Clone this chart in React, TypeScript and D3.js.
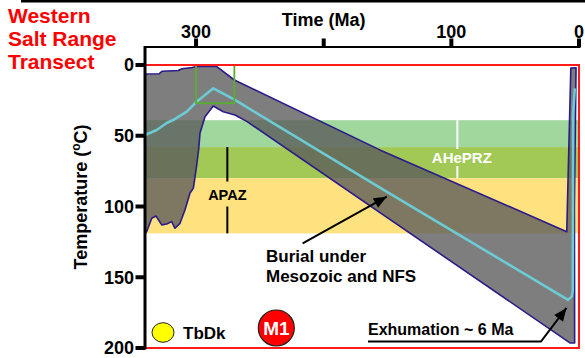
import React from "react";
import * as d3 from "d3";

// ---- data ----
const timeTicks = [300, 200, 100, 0];
const timeTickLabels = ["300", "", "100", "0"];
const tempTicks = [0, 50, 100, 150, 200];
const titleLines = ["Western", "Salt Range", "Transect"];

// envelope: upper boundary (minimum temperature), left to right [time Ma, temp °C]
const envUpper: [number, number][] = [
  [340, 6.4], [329, 6.2], [326.5, 4.4], [314, 3.9], [311, 2.6], [303, 1.8], [299.5, 1.0],
  [284, 1.0], [270, 10.6], [156, 60], [9.6, 117.8], [6.4, 2.1], [2.3, 1.9],
];
// right edge of envelope (present-day end), top to bottom
const envRight: [number, number][] = [
  [3.6, 100], [3.4, 196.5], [6.8, 196.5],
];
// envelope: lower boundary (maximum temperature), right to left
const envLower: [number, number][] = [
  [260, 40], [269.5, 35.3], [278.7, 33], [286.5, 29], [293, 36.5], [296.9, 48], [298, 60],
  [299.4, 70], [300.8, 79], [302.1, 87], [304.7, 90.5], [308.7, 102.5], [312.6, 111.9],
  [316.5, 115.4], [319.1, 110.7], [323, 112.4], [326.9, 113], [331.4, 106.7], [334.7, 108.3],
  [338.7, 117.8], [340, 119],
];
// mean path (cyan)
const meanPath: [number, number][] = [
  [340, 49.5], [330.8, 45.9], [323, 41], [318, 38.9], [307.3, 33], [299.5, 25.9], [286.5, 16.5],
  [269.5, 24.7], [156, 86.6], [8.6, 166], [5.6, 163.5], [4.9, 160], [4.6, 35], [3.3, 16.5],
];
// partial retention / annealing zones [from °C, to °C]
const bandLightGreen = [39, 58];
const bandDarkGreen = [58, 80];
const bandYellow = [80, 119];
const aheprzRange = [39, 80];
const apazRange = [58, 119];
const aheprzTime = 95.3;
const apazTime = 275.5;
// constraint box [time from, time to, temp from, temp to]
const constraintBox = [300, 270, 0, 27];
// annotation arrows (time, temp)
const burialArrow: [number, number][] = [[216.5, 126], [150.6, 93.1]];
const exhumArrow: [number, number][] = [[165.3, 195.4], [29.8, 195.4], [9.8, 171.7]];

const FONT = "'Liberation Sans', Arial, Helvetica, sans-serif";

function arrowHead(p0: [number, number], p1: [number, number], len = 13, half = 5.5) {
  const dx = p1[0] - p0[0];
  const dy = p1[1] - p0[1];
  const L = Math.hypot(dx, dy);
  const ux = dx / L, uy = dy / L;
  const bx = p1[0] - ux * len, by = p1[1] - uy * len;
  return `M${p1[0]},${p1[1]}L${bx - uy * half},${by + ux * half}L${bx + uy * half},${by - ux * half}Z`;
}

export default function App() {
  const x = d3.scaleLinear().domain([340, 0]).range([145, 579]);
  const y = d3.scaleLinear().domain([0, 200]).range([65, 348]);

  const line = d3.line<[number, number]>().x((d) => x(d[0])).y((d) => y(d[1]));
  const envelope = [...envUpper, ...envRight, ...envLower];
  const envPath = line(envelope) + "Z";
  const meanD = line(meanPath)!;

  const bands = [
    { r: bandLightGreen, c: "#9fd79d" },
    { r: bandDarkGreen, c: "#a2c956" },
    { r: bandYellow, c: "#fde27f" },
  ];

  const burialPx = burialArrow.map((d) => [x(d[0]), y(d[1])] as [number, number]);
  const exhumPx = exhumArrow.map((d) => [x(d[0]), y(d[1])] as [number, number]);

  const plotL = x(340), plotR = x(0), plotT = y(0), plotB = y(200);
  const axisTop = 47;

  return (
    <svg width={585} height={358} style={{ position: "absolute", left: 0, top: 0, display: "block", background: "#fff" }} fontFamily={FONT}>
      {/* top black rule */}
      <line x1={21} x2={585} y1={1} y2={1} stroke="#000" strokeWidth={3} />

      {/* title */}
      {titleLines.map((t, i) => (
        <text key={t} x={8} y={23 + i * 23} fill="#ff0000" fontWeight="bold" fontSize={21}>{t}</text>
      ))}

      {/* bands */}
      {bands.map((b, i) => (
        <rect key={i} x={plotL} width={plotR - plotL} y={y(b.r[0])} height={y(b.r[1]) - y(b.r[0])} fill={b.c} />
      ))}

      {/* envelope */}
      <path d={envPath} fill="#5a5a5a" fillOpacity={0.78} stroke="#2b1a8a" strokeWidth={1.6} strokeLinejoin="round" />

      {/* mean path */}
      <path d={meanD} fill="none" stroke="#6ccbd3" strokeWidth={2.6} strokeLinejoin="round" />

      {/* constraint box */}
      <rect x={x(constraintBox[0])} y={y(constraintBox[2])} width={x(constraintBox[1]) - x(constraintBox[0])}
        height={y(constraintBox[3]) - y(constraintBox[2])} fill="none" stroke="#5aae2e" strokeWidth={1.8} />

      {/* APAZ marker */}
      <line x1={x(apazTime)} x2={x(apazTime)} y1={y(apazRange[0])} y2={181.5} stroke="#000" strokeWidth={2} />
      <line x1={x(apazTime)} x2={x(apazTime)} y1={206.5} y2={y(apazRange[1])} stroke="#000" strokeWidth={2} />
      <text x={x(apazTime)} y={200} textAnchor="middle" fontWeight="bold" fontSize={14.5} fill="#000">APAZ</text>

      {/* AHePRZ marker */}
      <line x1={x(aheprzTime)} x2={x(aheprzTime)} y1={y(aheprzRange[0])} y2={149} stroke="#fff" strokeWidth={2} />
      <line x1={x(aheprzTime)} x2={x(aheprzTime)} y1={166} y2={y(aheprzRange[1])} stroke="#fff" strokeWidth={2} />
      <text x={x(aheprzTime) + 4.5} y={162.5} textAnchor="middle" fontWeight="bold" fontSize={15} fill="#fff">AHePRZ</text>

      {/* plot frame */}
      <rect x={plotL} y={plotT} width={plotR - plotL} height={plotB - plotT} fill="none" stroke="#ff1a1a" strokeWidth={2} />

      {/* axes */}
      <line x1={plotL} x2={plotR + 1.5} y1={axisTop} y2={axisTop} stroke="#000" strokeWidth={2} />
      <line x1={plotL} x2={plotL} y1={axisTop - 1} y2={plotB + 1.5} stroke="#000" strokeWidth={3} />
      {timeTicks.map((t, i) => (
        <g key={t}>
          <rect x={x(t) - 2} y={axisTop - 8.5} width={4} height={8.5} fill="#000" />
          {timeTickLabels[i] && (
            <text x={x(t)} y={37.5} textAnchor="middle" fontWeight="bold" fontSize={18} fill="#000">{timeTickLabels[i]}</text>
          )}
        </g>
      ))}
      {tempTicks.map((t) => (
        <g key={t}>
          <rect x={plotL - 9.5} y={y(t) - 2} width={9.5} height={4} fill="#000" />
          <text x={134} y={y(t)} dy="0.36em" textAnchor="end" fontWeight="bold" fontSize={18} fill="#000">{t}</text>
        </g>
      ))}
      <text x={x(200)} y={25.5} textAnchor="middle" fontWeight="bold" fontSize={18} fill="#000">Time (Ma)</text>
      <text transform="translate(87,197) rotate(-90)" textAnchor="middle" fontWeight="bold" fontSize={18} fill="#000">
        Temperature (<tspan dy={-7} fontSize={12}>o</tspan><tspan dy={7}>C)</tspan>
      </text>

      {/* annotations */}
      <line x1={burialPx[0][0]} y1={burialPx[0][1]} x2={burialPx[1][0]} y2={burialPx[1][1]} stroke="#000" strokeWidth={2} />
      <path d={arrowHead(burialPx[0], burialPx[1])} fill="#000" />
      <text x={266} y={261.5} fontWeight="bold" fontSize={17} fill="#000">Burial under</text>
      <text x={266} y={281.5} fontWeight="bold" fontSize={17} fill="#000">Mesozoic and NFS</text>

      <polyline points={exhumPx.map((p) => p.join(",")).join(" ")} fill="none" stroke="#000" strokeWidth={2} />
      <path d={arrowHead(exhumPx[1], exhumPx[2])} fill="#000" />
      <text x={368} y={335} fontWeight="bold" fontSize={16} fill="#000">Exhumation ~ 6 Ma</text>

      {/* legend */}
      <ellipse cx={163} cy={332.5} rx={11} ry={9.8} fill="#ffff00" stroke="#222" strokeWidth={1} />
      <text x={183} y={338.5} fontWeight="bold" fontSize={17} fill="#000">TbDk</text>
      <circle cx={276.3} cy={328} r={18} fill="#ff0000" stroke="#222" strokeWidth={1.2} />
      <text x={276.5} y={335} textAnchor="middle" fontWeight="bold" fontSize={19} fill="#fff">M1</text>
    </svg>
  );
}
